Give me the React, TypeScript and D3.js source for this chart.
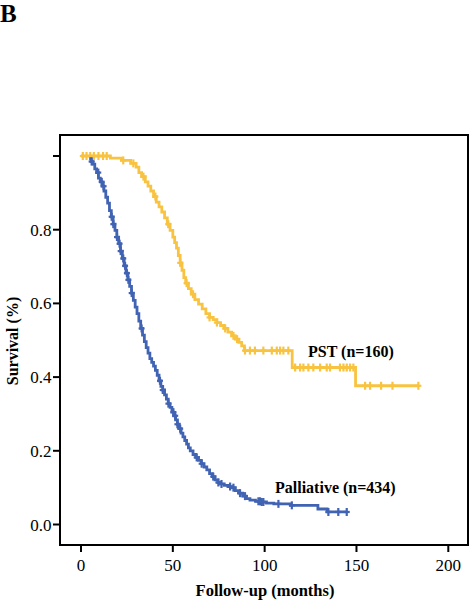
import React from "react";
import * as d3 from "d3";

// Kaplan-Meier step points: [time (months), survival after event]
const pstSteps: [number, number][] = [
  [0, 1.0], [16, 0.994], [22, 0.988], [27, 0.98], [30, 0.97], [31.5, 0.955],
  [33, 0.944], [35, 0.93], [36.5, 0.918], [38, 0.905], [39.5, 0.89], [41, 0.875],
  [42.5, 0.862], [44, 0.848], [45.5, 0.832], [47, 0.815], [48.5, 0.798], [50, 0.78],
  [51, 0.765], [52, 0.75], [53, 0.73], [54, 0.71], [55, 0.69], [56, 0.67],
  [57, 0.655], [58.5, 0.64], [60, 0.625], [62, 0.61], [64, 0.598], [66, 0.585],
  [68, 0.572], [70, 0.562], [72, 0.556], [74, 0.548], [76, 0.54], [78, 0.532],
  [80, 0.522], [82, 0.512], [84, 0.503], [86, 0.494], [87.5, 0.485], [89, 0.472],
  [115, 0.426], [149.5, 0.3765],
];
const pstEnd = 183.7;
const pstCensored = [
  1, 3, 5, 7, 9.5, 12, 14, 23, 28.5, 34, 40.5, 47.5, 54, 57.5, 61, 70, 74, 78.5,
  83, 85, 89.3, 92, 94.7, 99.3, 103.9, 106.6, 108.4, 110.2, 112.9,
  116.6, 119.3, 121.1, 123.8, 126.5, 130.2, 133.8, 135.6, 141, 142.9, 144.7, 146.5, 148.3,
  154.7, 157.4, 163.4, 169.6, 183.7,
];

const palSteps: [number, number][] = [
  [4.5, 0.993], [5.5, 0.985], [6.5, 0.978], [7.5, 0.965], [8.5, 0.955], [9.5, 0.94],
  [10.5, 0.93], [11.5, 0.918], [12.5, 0.905], [13.5, 0.888], [14.5, 0.872], [15.5, 0.852],
  [16.5, 0.835], [17.5, 0.815], [18.5, 0.798], [19.5, 0.78], [20.5, 0.762], [21.5, 0.742],
  [22.5, 0.722], [23.5, 0.702], [24.5, 0.682], [25.5, 0.664], [26.5, 0.646], [27.5, 0.628],
  [28.5, 0.608], [29.5, 0.59], [30.5, 0.572], [31.5, 0.552], [32.5, 0.532], [33.5, 0.514],
  [34.5, 0.496], [35.5, 0.48], [36.5, 0.465], [37.5, 0.45], [38.5, 0.44], [39.5, 0.43],
  [40.5, 0.418], [41.5, 0.405], [42.5, 0.39], [43.5, 0.375], [44.5, 0.365], [45.5, 0.352],
  [46.5, 0.34], [47.5, 0.328], [48.5, 0.318], [49.5, 0.305], [50.5, 0.295], [51.5, 0.284],
  [52.5, 0.272], [53.5, 0.26], [54.5, 0.248], [55.5, 0.238], [56.5, 0.228], [57.5, 0.218],
  [58.5, 0.208], [59.5, 0.2], [61, 0.19], [62.5, 0.182], [64, 0.174], [65.5, 0.165],
  [67, 0.156], [68.5, 0.148], [70, 0.138], [71.5, 0.13], [73, 0.121], [74.5, 0.114],
  [76, 0.11], [78, 0.106], [80, 0.103], [82, 0.1], [84, 0.092], [86, 0.085],
  [88, 0.077], [90, 0.07], [92, 0.066], [95, 0.063], [98, 0.061], [101, 0.058],
  [105, 0.056], [114, 0.052], [129, 0.042], [134, 0.034],
];
const palEnd = 145;
const palCensored = [
  5.8, 9.4, 11.3, 12.3, 16.7, 17.6, 19.6, 21, 21.6, 23, 24, 25, 25.8, 27.6, 33,
  43, 44.5, 47.6, 50.3, 51.3, 52.5, 54, 63, 65.7, 72, 74.8, 76.5, 81.2, 83, 86.6,
  89.3, 96.6, 97.5, 98.4, 99.3, 107.5, 114.8, 134.7, 140.1, 144.7,
];

const xTicks = [0, 50, 100, 150, 200];
const yTicks = [0, 0.2, 0.4, 0.6, 0.8, 1.0];
const yTickLabels = ["0.0", "0.2", "0.4", "0.6", "0.8", ""];

const PST_COLOR = "#F8C340";
const PAL_COLOR = "#4163B3";
const FONT = "'Liberation Serif', 'Times New Roman', serif";

function survivalAt(steps: [number, number][], t: number): number {
  let s = steps[0][1];
  for (const [ti, si] of steps) {
    if (ti <= t) s = si;
    else break;
  }
  return s;
}

export default function App() {
  const x = d3.scaleLinear().domain([0, 200]).range([81, 448.3]);
  const y = d3.scaleLinear().domain([0, 1]).range([524.5, 156]);

  const line = d3
    .line<[number, number]>()
    .x((d) => x(d[0]))
    .y((d) => y(d[1]))
    .curve(d3.curveStepAfter);

  const pstPath = line([...pstSteps, [pstEnd, pstSteps[pstSteps.length - 1][1]]]) || "";
  const palPath = line([...palSteps, [palEnd, palSteps[palSteps.length - 1][1]]]) || "";

  const censor = (steps: [number, number][], times: number[], color: string) =>
    times.map((t, i) => {
      const cx = x(t);
      const cy = y(survivalAt(steps, t));
      return (
        <g key={i} stroke={color} strokeWidth={2.2}>
          <line x1={cx} x2={cx} y1={cy - 4} y2={cy + 4} />
          <line x1={cx - 3} x2={cx + 3} y1={cy} y2={cy} />
        </g>
      );
    });

  return (
    <div style={{ position: "absolute", left: 0, top: 0 }}>
      <svg width={470} height={600} style={{ display: "block", background: "#fff" }}>
        <text x={0} y={22} fontFamily={FONT} fontWeight="bold" fontSize={25}>
          B
        </text>

        {/* frame */}
        <rect x={60} y={135} width={408} height={410} fill="none" stroke="#000" strokeWidth={2} />

        {/* y ticks */}
        {yTicks.map((v, i) => (
          <g key={"y" + i}>
            <line x1={53} x2={60} y1={y(v)} y2={y(v)} stroke="#000" strokeWidth={2} />
            <text
              x={51.5}
              y={y(v) + 6}
              textAnchor="end"
              fontFamily={FONT}
              fontSize={17}
              fill="#000"
            >
              {yTickLabels[i]}
            </text>
          </g>
        ))}

        {/* x ticks */}
        {xTicks.map((v, i) => (
          <g key={"x" + i}>
            <line x1={x(v)} x2={x(v)} y1={545} y2={552} stroke="#000" strokeWidth={2} />
            <text
              x={x(v)}
              y={570.5}
              textAnchor="middle"
              fontFamily={FONT}
              fontSize={17}
              fill="#000"
            >
              {v}
            </text>
          </g>
        ))}

        <text
          x={265}
          y={596}
          textAnchor="middle"
          fontFamily={FONT}
          fontWeight="bold"
          fontSize={16.5}
        >
          Follow-up (months)
        </text>
        <text
          transform="translate(18,341) rotate(-90)"
          textAnchor="middle"
          fontFamily={FONT}
          fontWeight="bold"
          fontSize={16}
        >
          Survival (%)
        </text>

        {/* curves */}
        <path d={pstPath} fill="none" stroke={PST_COLOR} strokeWidth={2.8} />
        {censor(pstSteps, pstCensored, PST_COLOR)}
        <path d={palPath} fill="none" stroke={PAL_COLOR} strokeWidth={2.8} />
        {censor(palSteps, palCensored, PAL_COLOR)}

        <text x={308} y={357} fontFamily={FONT} fontWeight="bold" fontSize={16}>
          PST (n=160)
        </text>
        <text x={275} y={493} fontFamily={FONT} fontWeight="bold" fontSize={16}>
          Palliative (n=434)
        </text>
      </svg>
    </div>
  );
}
